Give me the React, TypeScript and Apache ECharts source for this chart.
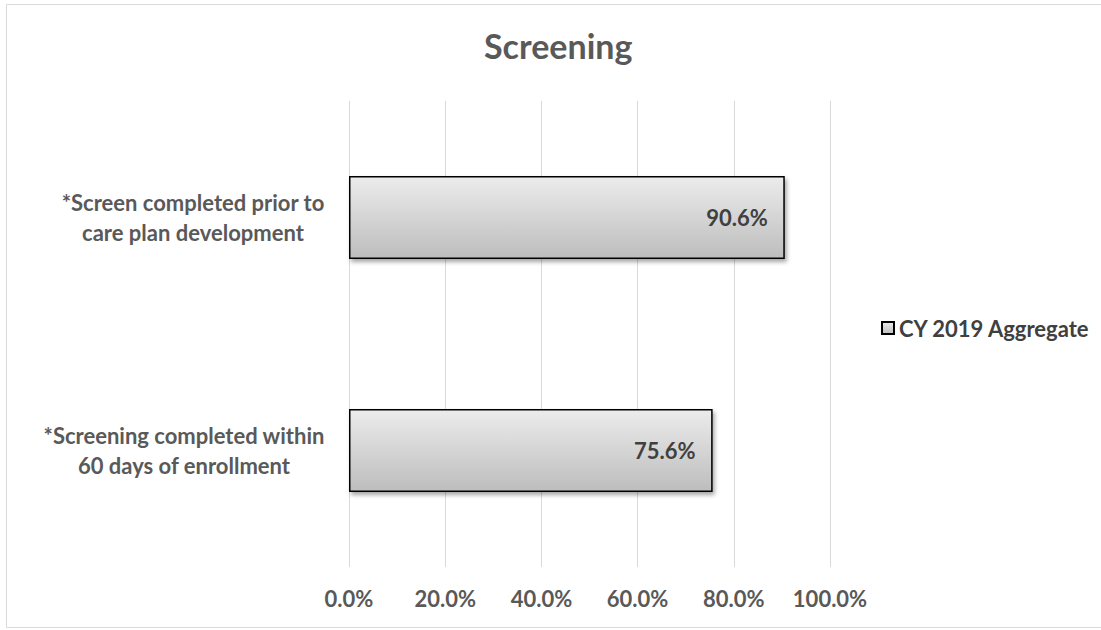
import React, { useEffect, useRef } from "react";
import * as echarts from "echarts";

// Bottom-to-top order for the category axis
const categories: string[] = [
  "*Screening completed within\n60 days of enrollment",
  "*Screen completed prior to\ncare plan development",
];
const seriesName = "CY 2019 Aggregate";
const values: number[] = [75.6, 90.6];
const xTicks = { min: 0, max: 100, interval: 20 };

const FONT = "Lato";
const LABEL_SIZE = 22;

// Widest line of a multi-line label, so the lines can be centred inside a right-aligned block
function widestLine(text: string): number {
  const ctx = document.createElement("canvas").getContext("2d");
  if (!ctx) return 290;
  ctx.font = `bold ${LABEL_SIZE}px ${FONT}`;
  return Math.ceil(
    Math.max(...text.split("\n").map((l) => ctx.measureText(l).width))
  );
}

export default function App() {
  const ref = useRef<HTMLDivElement>(null);

  useEffect(() => {
    if (!ref.current) return;
    const chart = echarts.init(ref.current, undefined, { renderer: "svg" });
    const pct = (v: number) => `${Number(v).toFixed(1)}%`;

    const rich: Record<string, any> = {};
    categories.forEach((c, i) => {
      rich[`c${i}`] = {
        width: widestLine(c),
        align: "center",
        lineHeight: 30,
        fontFamily: FONT,
        fontWeight: "bold",
        fontSize: LABEL_SIZE,
        color: "#595959",
      };
    });

    chart.setOption({
      animation: false,
      backgroundColor: "#ffffff",
      textStyle: { fontFamily: FONT },
      title: {
        text: "Screening",
        left: 479,
        top: 23,
        textStyle: {
          fontFamily: FONT,
          fontWeight: "bold",
          fontSize: 34,
          color: "#595959",
        },
      },
      graphic: [
        {
          type: "rect",
          shape: { x: 6.5, y: 4.5, width: 1100, height: 623 },
          style: { fill: "none", stroke: "#d9d9d9", lineWidth: 1 },
          silent: true,
        },
      ],
      legend: {
        data: [seriesName],
        left: 876,
        top: 312,
        icon: "rect",
        itemWidth: 12,
        itemHeight: 12,
        textStyle: {
          fontFamily: FONT,
          fontWeight: "bold",
          fontSize: LABEL_SIZE,
          color: "#404040",
        },
      },
      grid: { left: 349, right: 271, top: 101, bottom: 63 },
      xAxis: {
        type: "value",
        min: xTicks.min,
        max: xTicks.max,
        interval: xTicks.interval,
        axisLine: { show: false },
        axisTick: { show: false },
        splitLine: { lineStyle: { color: "#d9d9d9", width: 1 } },
        axisLabel: {
          formatter: (v: number) => pct(v),
          margin: 20,
          fontFamily: FONT,
          fontWeight: "bold",
          fontSize: LABEL_SIZE,
          color: "#595959",
        },
      },
      yAxis: {
        type: "category",
        data: categories,
        axisLine: { show: false },
        axisTick: { show: false },
        splitLine: { show: false },
        axisLabel: {
          align: "right",
          margin: 24,
          formatter: (value: string, index: number) =>
            value
              .split("\n")
              .map((line) => `{c${index}|${line}}`)
              .join("\n"),
          rich,
        },
      },
      series: [
        {
          name: seriesName,
          type: "bar",
          data: values,
          barWidth: 83,
          itemStyle: {
            color: new echarts.graphic.LinearGradient(0, 0, 0, 1, [
              { offset: 0, color: "#ececec" },
              { offset: 1, color: "#bdbdbd" },
            ]),
            borderColor: "#000000",
            borderWidth: 1.5,
            shadowBlur: 4,
            shadowOffsetX: 2,
            shadowOffsetY: 3,
            shadowColor: "rgba(0,0,0,0.35)",
          },
          label: {
            show: true,
            position: "insideRight",
            distance: 17,
            formatter: (p: any) => pct(p.value),
            fontFamily: FONT,
            fontWeight: "bold",
            fontSize: LABEL_SIZE,
            color: "#404040",
          },
        },
      ],
    });

    return () => chart.dispose();
  }, []);

  return (
    <div
      ref={ref}
      style={{ position: "fixed", left: 0, top: 0, width: 1101, height: 630 }}
    />
  );
}
